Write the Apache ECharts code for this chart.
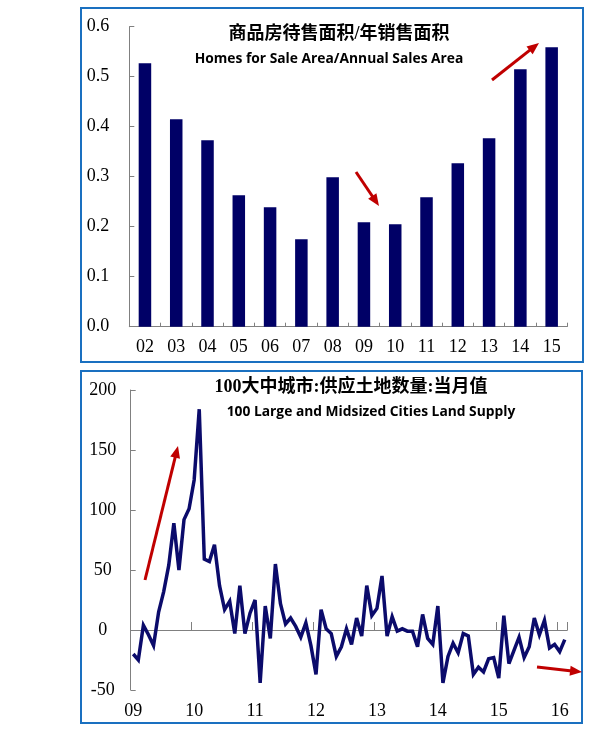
<!DOCTYPE html>
<html>
<head>
<meta charset="utf-8">
<script src="https://cdn.jsdelivr.net/npm/echarts@6/dist/echarts.min.js"></script>
<style>
html,body{margin:0;padding:0;background:#fff;}
#c{width:599px;height:730px;}
</style>
</head>
<body>
<div id="c"></div>
<script>
// ---- Top chart data ----
var barYears = ['02','03','04','05','06','07','08','09','10','11','12','13','14','15'];
var barValues = [0.527,0.415,0.373,0.263,0.239,0.175,0.299,0.209,0.205,0.259,0.327,0.377,0.515,0.559];
var barTitleCn = '商品房待售面积/年销售面积';
var barTitleEn = 'Homes for Sale Area/Annual Sales Area';

// ---- Bottom chart data (monthly, Jan 2009 - Feb 2016) ----
var lineYears = ['09','10','11','12','13','14','15','16'];
var lineMonthsIn2016 = 2;
var lineValues = [
  -20,-25,4,-4,-13,15,32,54,89,50,92,101,
  125,184,59,57,71,37,17,24,-3,37,-3,14,
  25,-44,20,-7,55,22,5,10,3,-6,6,-13,
  -37,17,1,-3,-22,-14,1,-12,10,-5,37,12,
  18,45,-5,11,-1,1,-1,-1,-14,13,-7,-12,
  20,-44,-22,-11,-19,-3,-5,-37,-31,-35,-24,-23,
  -40,12,-28,-17,-6,-23,-14,10,-4,8,-15,-12,
  -18,-8
];
var lineTitleCn = '100大中城市:供应土地数量:当月值';
var lineTitleEn = '100 Large and Midsized Cities Land Supply';

// month categories
var lineCats = [];
lineYears.forEach(function(y, k){
  var n = (k === lineYears.length - 1) ? lineMonthsIn2016 : 12;
  for (var m = 1; m <= n; m++) lineCats.push(y + '-' + (m < 10 ? '0' + m : m));
});

var NAVY = '#000066';
var LINE = '#0b0b6b';
var GRAY = '#808080';
var RED = '#c00000';
var BLUE = '#1a70c0';
var serif = '"Liberation Serif","Times New Roman",serif';
var cnFont = '"Liberation Serif","Noto Sans CJK SC",serif';
var enFont = '"Open Sans",sans-serif';

function arrow(x1,y1,x2,y2){
  var dx = x2-x1, dy = y2-y1, L = Math.sqrt(dx*dx+dy*dy);
  var ux = dx/L, uy = dy/L, px = -uy, py = ux;
  var hl = 12, hw = 5;
  var bx = x2 - ux*hl, by = y2 - uy*hl;
  return [
    {type:'line', shape:{x1:x1,y1:y1,x2:bx+ux*2,y2:by+uy*2}, style:{stroke:RED,lineWidth:3}, z:100},
    {type:'polygon', shape:{points:[[x2,y2],[bx+px*hw,by+py*hw],[bx-px*hw,by-py*hw]]}, style:{fill:RED}, z:100}
  ];
}

var graphics = [
  {type:'rect', shape:{x:81,y:8,width:502,height:354}, style:{fill:'none',stroke:BLUE,lineWidth:2}, z:50},
  {type:'rect', shape:{x:81,y:371,width:501,height:352}, style:{fill:'none',stroke:BLUE,lineWidth:2}, z:50},
  {type:'text', style:{text:barTitleCn, x:339, y:34, align:'center', verticalAlign:'middle', font:'bold 18px ' + cnFont, fill:'#000'}, z:60},
  {type:'text', style:{text:barTitleEn, x:329, y:59, align:'center', verticalAlign:'middle', font:'bold 13.8px ' + enFont, fill:'#000'}, z:60},
  {type:'text', style:{text:lineTitleCn, x:351, y:387, align:'center', verticalAlign:'middle', font:'bold 18px ' + cnFont, fill:'#000'}, z:60},
  {type:'text', style:{text:lineTitleEn, x:371, y:412, align:'center', verticalAlign:'middle', font:'bold 13.8px ' + enFont, fill:'#000'}, z:60}
].concat(arrow(356,172,379,206))
 .concat(arrow(492,80,539,43))
 .concat(arrow(145,580,178,446))
 .concat(arrow(537,667,582,672));

var chart = echarts.init(document.getElementById('c'), null, {renderer:'canvas'});
chart.setOption({
  animation:false,
  backgroundColor:'#fff',
  graphic: graphics,
  grid:[
    {left:129.3, top:26.7, width:438, height:300, containLabel:false},
    {left:130.7, top:390, width:436.6, height:300, containLabel:false}
  ],
  xAxis:[
    {type:'category', gridIndex:0, data:barYears, boundaryGap:true,
     axisLine:{lineStyle:{color:GRAY,width:1}},
     axisTick:{show:true, inside:true, length:4, lineStyle:{color:GRAY}},
     axisLabel:{color:'#000', fontFamily:serif, fontSize:18, margin:12}},
    {type:'category', gridIndex:1, data:lineCats, boundaryGap:true,
     axisLine:{onZero:true, lineStyle:{color:GRAY,width:1}},
     axisTick:{show:true, inside:true, length:8, interval:function(i){return i % 12 === 0;}, lineStyle:{color:GRAY}},
     axisLabel:{show:false}},
    {type:'category', gridIndex:1, data:lineCats, boundaryGap:true, position:'bottom',
     axisLine:{show:false, onZero:false},
     axisTick:{show:false},
     axisLabel:{show:true, color:'#000', fontFamily:serif, fontSize:18, margin:12,
       interval:function(i){return i % 12 === 0;},
       formatter:function(v){return v.slice(0,2);}}}
  ],
  yAxis:[
    {type:'value', gridIndex:0, min:0, max:0.6, interval:0.1,
     axisLine:{show:true, lineStyle:{color:GRAY}},
     axisTick:{show:true, inside:true, length:5, lineStyle:{color:GRAY}},
     splitLine:{show:false},
     axisLabel:{color:'#000', fontFamily:serif, fontSize:18, margin:20,
       formatter:function(v){return v.toFixed(1);}}},
    {type:'value', gridIndex:1, min:-50, max:200, interval:50,
     axisLine:{show:true, lineStyle:{color:GRAY}},
     axisTick:{show:true, inside:true, length:5, lineStyle:{color:GRAY}},
     splitLine:{show:false},
     axisLabel:{color:'#000', fontFamily:serif, fontSize:18, margin:28, align:'center'}}
  ],
  series:[
    {type:'bar', xAxisIndex:0, yAxisIndex:0, data:barValues, barWidth:'40%',
     itemStyle:{color:NAVY}, silent:true},
    {type:'line', xAxisIndex:1, yAxisIndex:1, data:lineValues, showSymbol:false, symbol:'none',
     lineStyle:{color:LINE, width:3.5, join:'miter', miterLimit:4}, silent:true}
  ]
});
</script>
</body>
</html>
